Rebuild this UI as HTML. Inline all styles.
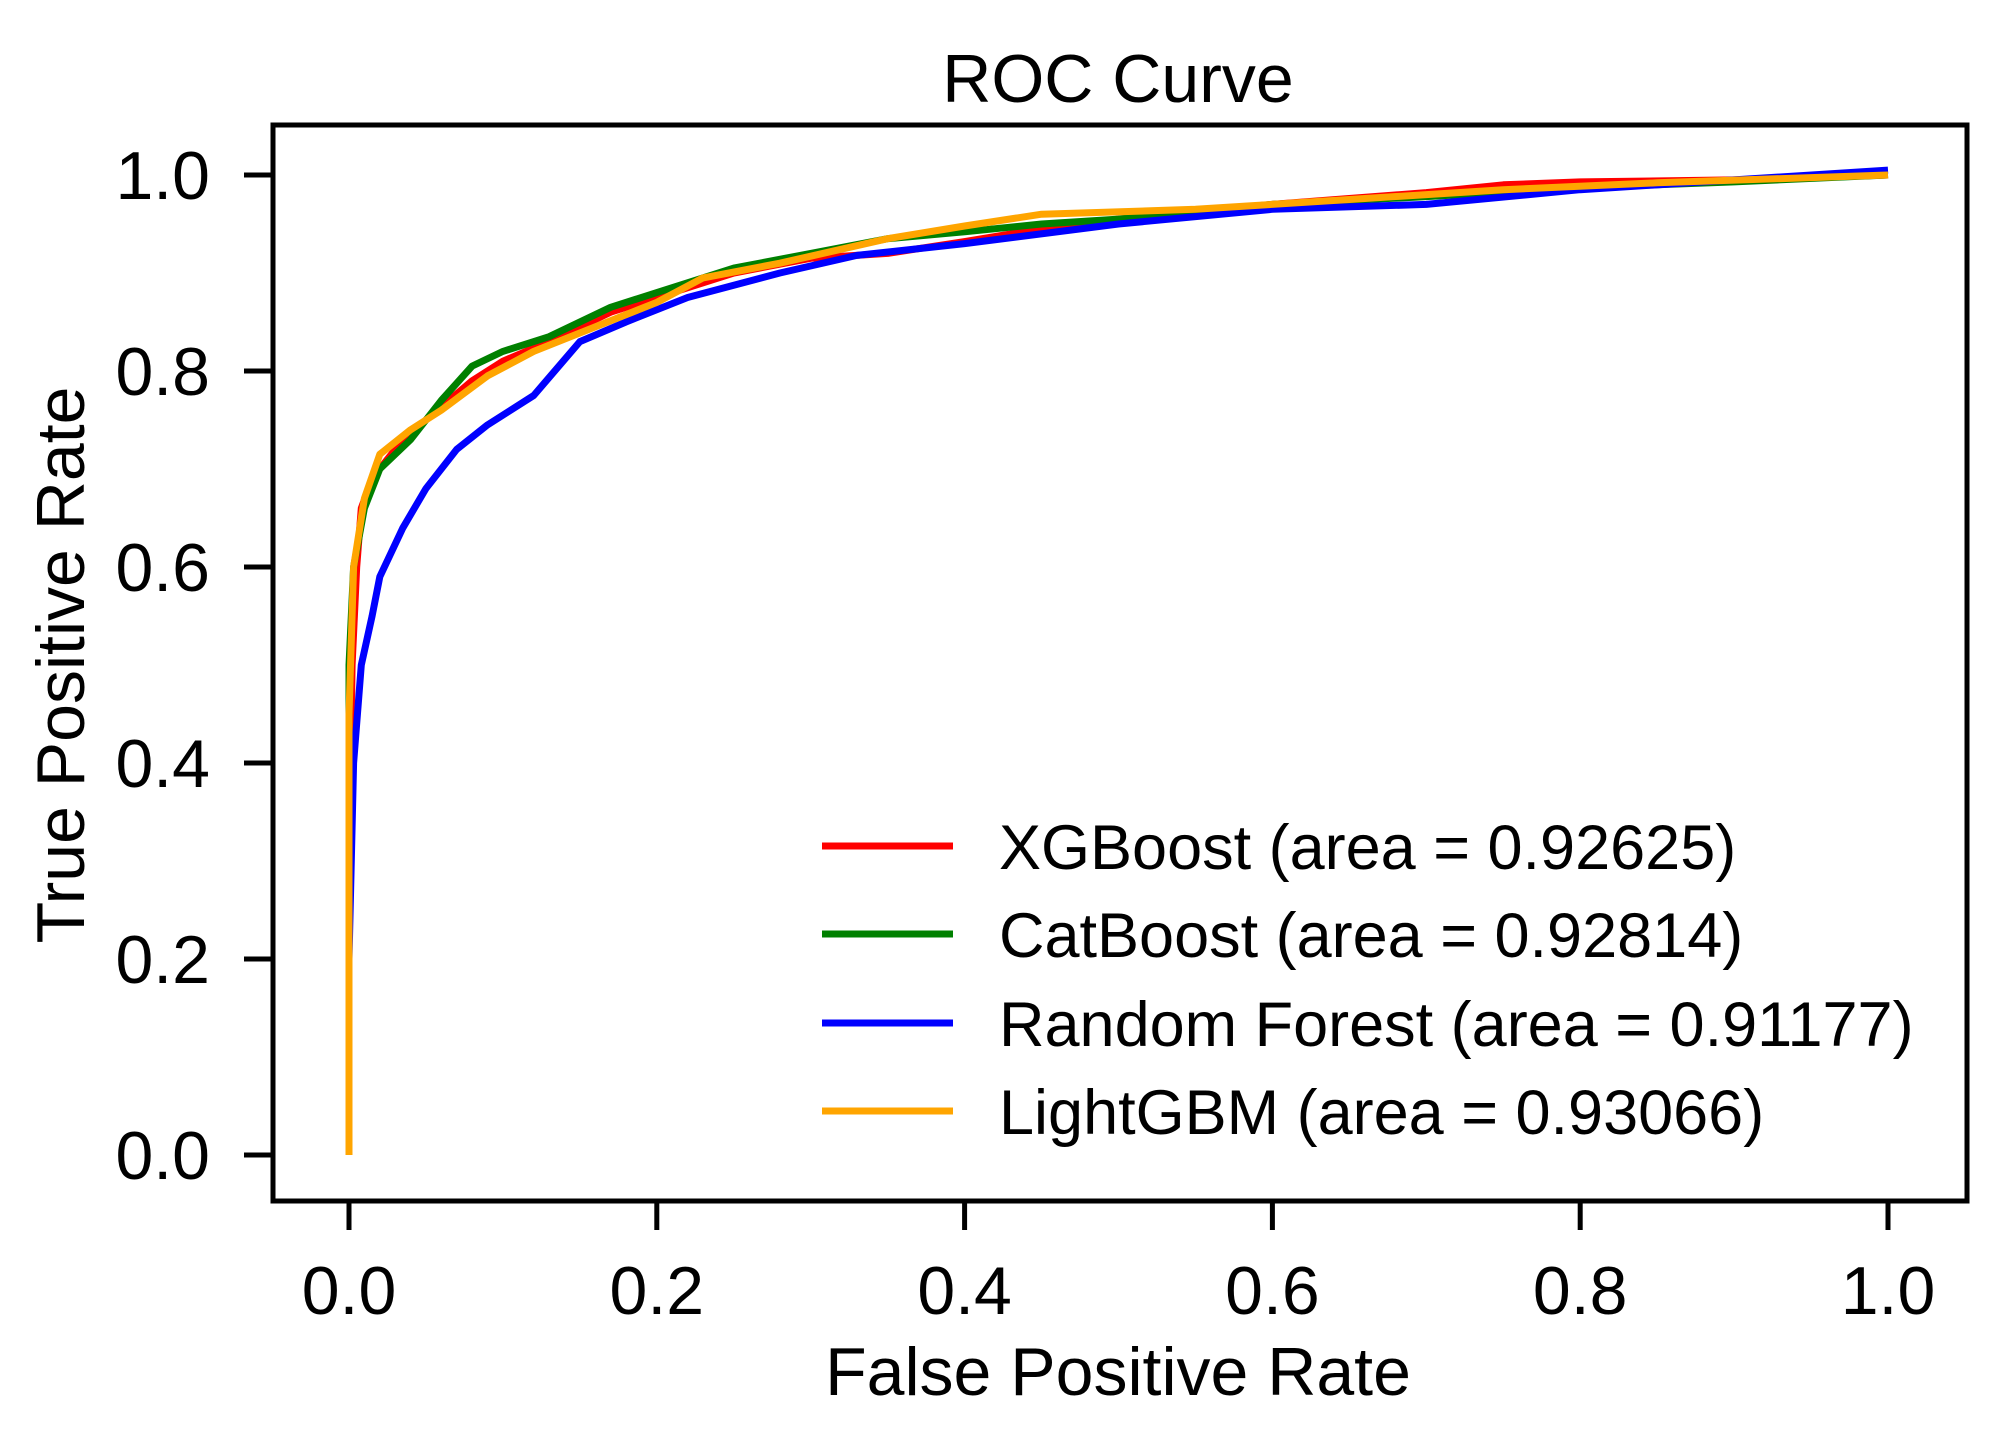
<!DOCTYPE html>
<html><head><meta charset="utf-8"><style>
html,body{margin:0;padding:0;background:#fff;}
svg{display:block;font-family:"Liberation Sans",Arial,sans-serif;}
</style></head><body>
<svg id="chart" width="1997" height="1433" viewBox="0 0 1997 1433">
<g id="plot"></g>
</svg>
<script>
const seriesNames = ["XGBoost (area = 0.92625)","CatBoost (area = 0.92814)","Random Forest (area = 0.91177)","LightGBM (area = 0.93066)"];
const seriesKeys = ["xgboost","catboost","random-forest","lightgbm"];
const seriesColors = ["#ff0000","#008000","#0000ff","#ffa500"];
const xgbFpr = [0,0,0.002,0.005,0.008,0.015,0.03,0.05,0.08,0.1,0.13,0.17,0.2,0.25,0.3,0.35,0.4,0.45,0.5,0.6,0.7,0.75,0.8,0.9,1];
const xgbTpr = [0,0.3,0.5,0.6,0.66,0.69,0.72,0.75,0.79,0.81,0.83,0.86,0.875,0.9,0.915,0.92,0.932,0.945,0.955,0.97,0.982,0.99,0.993,0.995,1];
const catFpr = [0,0,0.003,0.01,0.02,0.04,0.06,0.08,0.1,0.13,0.17,0.2,0.25,0.3,0.35,0.4,0.45,0.5,0.6,0.7,0.8,0.9,1];
const catTpr = [0,0.5,0.6,0.66,0.7,0.73,0.77,0.805,0.82,0.835,0.865,0.88,0.905,0.92,0.935,0.942,0.95,0.955,0.97,0.978,0.987,0.993,1];
const rfFpr = [0,0,0.003,0.008,0.015,0.02,0.035,0.05,0.07,0.09,0.12,0.15,0.18,0.22,0.28,0.33,0.4,0.5,0.6,0.7,0.8,0.9,1];
const rfTpr = [0,0.2,0.4,0.5,0.55,0.59,0.64,0.68,0.72,0.745,0.775,0.83,0.85,0.875,0.9,0.918,0.93,0.95,0.965,0.97,0.985,0.995,1.005];
const lgbFpr = [0,0,0.003,0.01,0.02,0.04,0.06,0.09,0.12,0.16,0.2,0.23,0.28,0.35,0.4,0.45,0.55,0.65,0.75,0.85,1];
const lgbTpr = [0,0.45,0.6,0.67,0.715,0.74,0.76,0.795,0.82,0.845,0.87,0.895,0.91,0.935,0.948,0.96,0.965,0.975,0.985,0.992,1];
const xTicks = [0,0.2,0.4,0.6,0.8,1.0];
const xTickLabels = ["0.0","0.2","0.4","0.6","0.8","1.0"];
const yTicks = [0,0.2,0.4,0.6,0.8,1.0];
const yTickLabels = ["0.0","0.2","0.4","0.6","0.8","1.0"];

const NS="http://www.w3.org/2000/svg";
const X0=349,X1=1888,Y0=1155,Y1=175;
const L=273,R=1967,T=125,B=1201;
function xs(v){return X0+(X1-X0)*v;}
function ys(v){return Y0-(Y0-Y1)*v;}
const svg=document.getElementById('chart');
function mk(tag,attrs,parent){const e=document.createElementNS(NS,tag);for(const k in attrs)e.setAttribute(k,attrs[k]);(parent||svg).appendChild(e);return e;}

let t=mk('text',{x:1118,y:102,'text-anchor':'middle','font-size':68,fill:'#000'});
t.textContent='ROC Curve';



const plot=document.getElementById('plot');
const xsArr=[xgbFpr,catFpr,rfFpr,lgbFpr], ysArr=[xgbTpr,catTpr,rfTpr,lgbTpr];
for(let s=0;s<4;s++){
  const pts=xsArr[s].map((v,i)=>xs(v).toFixed(1)+','+ys(ysArr[s][i]).toFixed(1)).join(' ');
  const p=mk('polyline',{points:pts,fill:'none',stroke:seriesColors[s],'stroke-width':7,'stroke-linejoin':'round'},plot);
  
  
}

const fr=mk('rect',{x:L,y:T,width:R-L,height:B-T,fill:'none',stroke:'#000','stroke-width':5});



xTicks.forEach((v,i)=>{
  const ln=mk('line',{x1:xs(v),x2:xs(v),y1:B,y2:B+29,stroke:'#000','stroke-width':5});
  
  
  const tx=mk('text',{x:xs(v),y:1314,'text-anchor':'middle','font-size':68,fill:'#000'});
  tx.textContent=xTickLabels[i];
  
  
});
yTicks.forEach((v,i)=>{
  const ln=mk('line',{x1:L-29,x2:L,y1:ys(v),y2:ys(v),stroke:'#000','stroke-width':5});
  
  
  const tx=mk('text',{x:210,y:ys(v)+24,'text-anchor':'end','font-size':68,fill:'#000'});
  tx.textContent=yTickLabels[i];
  
  
});
let xl=mk('text',{x:1118,y:1395,'text-anchor':'middle','font-size':68,fill:'#000'});
xl.textContent='False Positive Rate';


let yl=mk('text',{x:0,y:0,'text-anchor':'middle','font-size':68,fill:'#000',transform:'translate(84,665) rotate(-90)'});
yl.textContent='True Positive Rate';



const legY=[846,934,1023,1111];
for(let s=0;s<4;s++){
  const g=mk('g',{});
  
  
  const ln=mk('line',{x1:822,x2:953,y1:legY[s],y2:legY[s],stroke:seriesColors[s],'stroke-width':7},g);
  
  
  const tx=mk('text',{x:999,y:legY[s]+23,'font-size':63,fill:'#000'},g);
  tx.textContent=seriesNames[s];
  
  
}
</script>
</body></html>
